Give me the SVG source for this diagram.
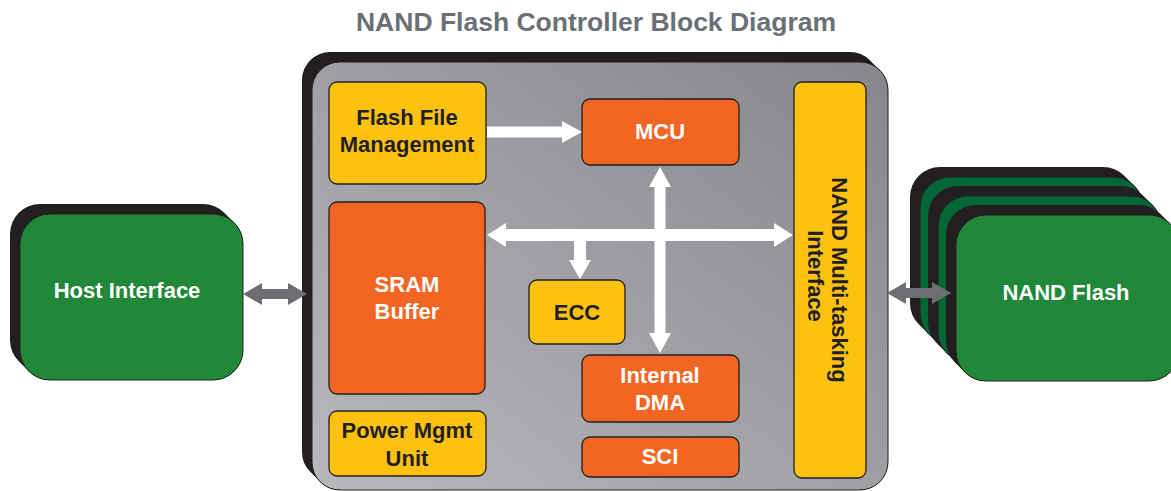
<svg xmlns="http://www.w3.org/2000/svg" width="1171" height="491" viewBox="0 0 1171 491">
<style>
text{font-family:"Liberation Sans",Arial,sans-serif;font-weight:bold;font-size:22px;text-anchor:middle}
.dk{fill:#231f20}
.wt{fill:#ffffff}
.box{stroke:#231f20;stroke-width:1.3}
.yel{fill:#fdc210}
.org{fill:#f26522}
.ext{fill:#231f20}
.face{fill:#218739;stroke:#231f20;stroke-width:1}
.back{fill:#006836;stroke:#231f20;stroke-width:1}
.warr{fill:#ffffff}
.garr{fill:#6d6e71}
</style>
<defs>
<linearGradient id="gr" x1="0" y1="1" x2="1" y2="0">
<stop offset="0" stop-color="#b8b9bc"/>
<stop offset="1" stop-color="#85868a"/>
</linearGradient>
<path id="bx" d="M20 -10 H183 A30 30 0 0 1 204.2 -1.2 L214.2 8.8 A30 30 0 0 1 223 30 V136 A30 30 0 0 1 193 166 H30 A30 30 0 0 1 8.8 157.2 L-1.2 147.2 A30 30 0 0 1 -10 126 V20 A30 30 0 0 1 20 -10 Z"/>
</defs>
<rect width="1171" height="491" fill="#ffffff"/>
<text x="596" y="31" style="font-size:26.5px;fill:#6b7075">NAND Flash Controller Block Diagram</text>

<g id="host-interface">
<use href="#bx" class="ext" transform="translate(20,214)"/>
<rect x="20" y="214" width="223" height="166" rx="30" class="face"/>
<text x="127" y="298" class="wt">Host Interface</text>
</g>

<g id="nand-flash">
<use href="#bx" class="ext" transform="translate(920,177)"/>
<rect x="920" y="177" width="223" height="166" rx="30" class="back"/>
<use href="#bx" class="ext" transform="translate(938,196)"/>
<rect x="938" y="196" width="223" height="166" rx="30" class="back"/>
<use href="#bx" class="ext" transform="translate(956,215)"/>
<rect x="956" y="215" width="223" height="166" rx="30" class="face"/>
<text x="1066" y="300" class="wt">NAND Flash</text>
</g>

<g id="controller">
<path class="ext" d="M330 52 H850 A28 28 0 0 1 869.8 60.2 L879.8 70.2 A28 28 0 0 1 888 90 V462 A28 28 0 0 1 860 490 H340 A28 28 0 0 1 320.2 481.8 L310.2 471.8 A28 28 0 0 1 302 452 V80 A28 28 0 0 1 330 52 Z"/>
<rect x="312" y="62" width="576" height="428" rx="28" fill="url(#gr)" stroke="#231f20" stroke-width="1"/>
</g>

<g id="flash-file-management">
<rect x="329" y="82" width="157" height="102" rx="8" class="box yel"/>
<text x="407" y="125" class="dk">Flash File</text>
<text x="407" y="152" class="dk">Management</text>
</g>
<g id="mcu">
<rect x="582" y="99" width="157" height="66" rx="8" class="box org"/>
<text x="660" y="139" class="wt">MCU</text>
</g>
<g id="sram-buffer">
<rect x="329" y="202" width="156" height="192" rx="8" class="box org"/>
<text x="407" y="292" class="wt">SRAM</text>
<text x="407" y="319" class="wt">Buffer</text>
</g>
<g id="power-mgmt">
<rect x="329" y="411" width="157" height="65" rx="8" class="box yel"/>
<text x="407" y="438" class="dk">Power Mgmt</text>
<text x="407" y="466" class="dk">Unit</text>
</g>
<g id="ecc">
<rect x="529" y="280" width="96" height="64" rx="8" class="box yel"/>
<text x="577" y="320" class="dk">ECC</text>
</g>
<g id="internal-dma">
<rect x="582" y="355" width="157" height="67" rx="8" class="box org"/>
<text x="660" y="383" class="wt">Internal</text>
<text x="660" y="410" class="wt">DMA</text>
</g>
<g id="sci">
<rect x="582" y="437" width="157" height="40" rx="8" class="box org"/>
<text x="660" y="464" class="wt">SCI</text>
</g>
<g id="nand-interface">
<rect x="794" y="82" width="72" height="396" rx="8" class="box yel"/>
<text transform="translate(832,280) rotate(90)" class="dk">NAND Multi-tasking</text>
<text transform="translate(808,276) rotate(90)" class="dk">Interface</text>
</g>

<g id="connectors">
<polygon class="warr" points="487,126.5 562,126.5 562,121 582,132 562,143 562,137.5 487,137.5"/>
<polygon class="warr" points="487,235 506,223 506,229 774,229 774,223 793,235 774,247 774,241 506,241 506,247"/>
<polygon class="warr" points="660,167 671,187 665.5,187 665.5,333 671,333 660,353 649,333 654.5,333 654.5,187 649,187"/>
<polygon class="warr" points="574,240 586,240 586,260 591,260 580,279 569,260 574,260"/>
<polygon class="garr" points="243,294 262,283 262,289 288,289 288,283 307,294 288,305 288,299 262,299 262,305"/>
<polygon class="garr" points="887,293 906,282 906,288 932,288 932,282 951,293 932,304 932,298 906,298 906,304"/>
</g>
</svg>
